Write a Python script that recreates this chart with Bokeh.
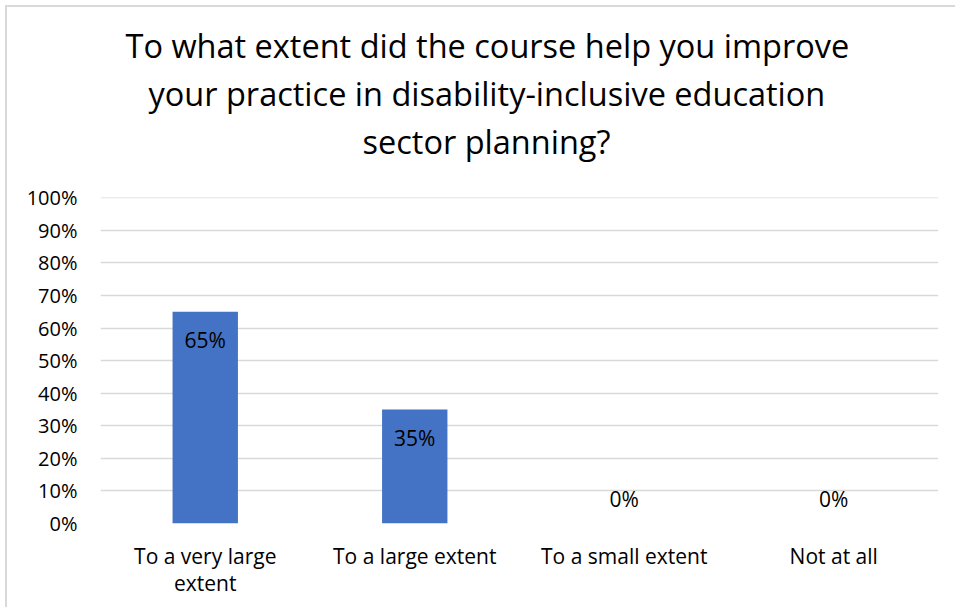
from bokeh.plotting import figure
from bokeh.models import (ColumnDataSource, Range1d, FixedTicker, NumeralTickFormatter,
                          Title, CategoricalAxis, CustomJSTickFormatter)
from bokeh.embed import file_html
from bokeh.resources import INLINE

categories = ["To a very large extent", "To a large extent", "To a small extent", "Not at all"]
values = [0.65, 0.35, 0.0, 0.0]
value_labels = ["65%", "35%", "0%", "0%"]
y_ticks = [0.0, 0.1, 0.2, 0.3, 0.4, 0.5, 0.6, 0.7, 0.8, 0.9, 1.0]
cat_line1 = ["To a very large", "To a large extent", "To a small extent", "Not at all"]
cat_line2 = ["extent", "", "", ""]
title_lines = ["To what extent did the course help you improve",
               "your practice in disability-inclusive education",
               "sector planning?"]

FONT = "Open Sans"
W, H = 950, 602

p = figure(width=W, height=H, x_range=categories, y_range=Range1d(0, 1.001),
           output_backend="svg", toolbar_location=None, tools="")
p.styles = {"margin-left": "5px", "margin-top": "5px",
            "border-left": "2px solid #d9d9d9", "border-top": "2px solid #d9d9d9"}
p.min_border = 0
p.min_border_left = 93
p.min_border_right = 19
p.min_border_top = 190
p.min_border_bottom = 86
p.outline_line_color = None
p.background_fill_color = "white"
p.border_fill_color = "white"

src = ColumnDataSource(dict(
    cat=categories, val=values, lab=value_labels,
    off=[28 if v > 0 else -25 for v in values],
))

p.vbar(x="cat", top="val", width=0.312, source=src, color="#4472C4", line_color=None)
p.text(x="cat", y="val", text="lab", source=src, y_offset="off",
       text_align="center", text_baseline="middle",
       text_font={"value": FONT}, text_font_size="21px", text_color="#000000")

# y axis
p.yaxis.ticker = FixedTicker(ticks=y_ticks)
p.yaxis.formatter = NumeralTickFormatter(format="0%")
p.yaxis.axis_line_color = None
p.yaxis.major_tick_line_color = None
p.yaxis.minor_tick_line_color = None
p.yaxis.major_label_standoff = 17
p.yaxis.major_label_text_font = FONT
p.yaxis.major_label_text_font_size = "20px"
p.yaxis.major_label_text_color = "#000000"

# x axis (two stacked label rows for wrapped category names)
def style_x(ax, standoff, names):
    ax.axis_line_color = None
    ax.major_tick_line_color = None
    ax.minor_tick_line_color = None
    ax.major_label_standoff = standoff
    ax.major_label_text_font = FONT
    ax.major_label_text_font_size = "21px"
    ax.major_label_text_color = "#000000"
    ax.formatter = CustomJSTickFormatter(
        args=dict(cats=categories, names=names),
        code="const i = cats.indexOf(tick); return i >= 0 ? names[i] : tick;")

style_x(p.xaxis[0], 12, cat_line1)
ax2 = CategoricalAxis()
style_x(ax2, -10, cat_line2)
p.add_layout(ax2, "below")

p.xgrid.grid_line_color = None
p.ygrid.grid_line_color = "#d9d9d9"
p.ygrid.grid_line_width = 1.5

# spacer between the plot frame and the title block
p.add_layout(Title(text=" ", standoff=30, text_font_size="1px"), "above")
for line, off in zip(reversed(title_lines), [262, 48, 25]):
    p.add_layout(Title(text=line, align="left", offset=off, standoff=1,
                       text_font=FONT, text_font_size="32.5px",
                       text_font_style="normal", text_color="#000000"), "above")

open("out.html", "w").write(file_html(p, INLINE))
